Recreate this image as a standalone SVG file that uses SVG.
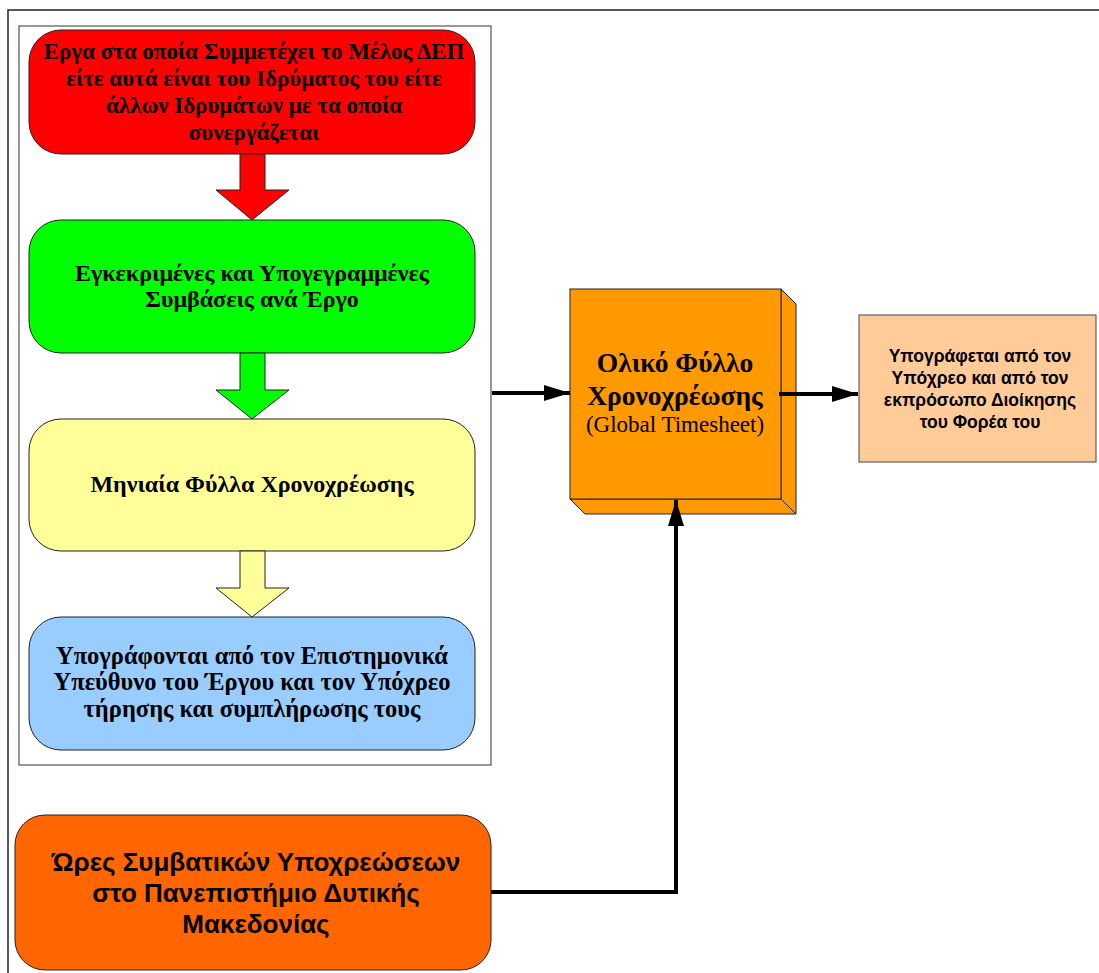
<svg xmlns="http://www.w3.org/2000/svg" width="1099" height="973" viewBox="0 0 1099 973">
<defs>
<style>
.frame{fill:none;stroke:#222;stroke-width:1.5}
.inner{fill:none;stroke:#333;stroke-width:1}
.box{stroke:#222;stroke-width:1}
.serif{font-family:"Liberation Serif","DejaVu Serif",serif;font-weight:bold;fill:#000;text-anchor:middle}
.sans{font-family:"Liberation Sans","Arial",sans-serif;font-weight:bold;fill:#000;text-anchor:middle}
.conn{fill:none;stroke:#000;stroke-width:4}
.blk{stroke:#222;stroke-width:1}
</style>
<marker id="ah" viewBox="0 0 26 16" refX="26" refY="8" markerWidth="26" markerHeight="16" markerUnits="userSpaceOnUse" orient="auto">
<path d="M0,0 L26,8 L0,16 Z" fill="#000"/>
</marker>
</defs>
<rect width="1099" height="973" fill="#fff"/>
<path class="frame" d="M1099,10 H8 V973"/>
<rect class="inner" x="19" y="26" width="472" height="739"/>

<g id="n-red">
<rect class="box" x="29" y="30" width="446" height="124" rx="32" fill="#FF0000"/>
<text class="serif" font-size="23" x="254" y="59">Εργα στα οποία Συμμετέχει το Μέλος ΔΕΠ</text>
<text class="serif" font-size="23" x="254" y="86">είτε αυτά είναι του Ιδρύματος του είτε</text>
<text class="serif" font-size="23" x="254" y="113">άλλων Ιδρυμάτων με τα οποία</text>
<text class="serif" font-size="23" x="254" y="140">συνεργάζεται</text>
</g>
<g id="a-red"><path class="blk" fill="#FF0000" d="M240,154 H265 V190 H289 L252,220 L216,190 H240 Z"/></g>

<g id="n-green">
<rect class="box" x="29" y="220" width="446" height="133" rx="32" fill="#00FF00"/>
<text class="serif" font-size="24" x="252" y="281">Εγκεκριμένες και Υπογεγραμμένες</text>
<text class="serif" font-size="24" x="252" y="307">Συμβάσεις ανά Έργο</text>
</g>
<g id="a-green"><path class="blk" fill="#00FF00" d="M240,353 H265 V390 H289 L252,419 L216,390 H240 Z"/></g>

<g id="n-yellow">
<rect class="box" x="29" y="419" width="446" height="132" rx="32" fill="#FFFF99"/>
<text class="serif" font-size="24" x="252" y="492">Μηνιαία Φύλλα Χρονοχρέωσης</text>
</g>
<g id="a-yellow"><path class="blk" fill="#FFFF99" d="M240,551 H265 V588 H289 L252,617 L216,588 H240 Z"/></g>

<g id="n-blue">
<rect class="box" x="29" y="617" width="446" height="133" rx="32" fill="#99CCFF"/>
<text class="serif" font-size="24.5" x="252" y="664">Υπογράφονται από τον Επιστημονικά</text>
<text class="serif" font-size="24.5" x="252" y="690">Υπεύθυνο του Έργου και τον Υπόχρεο</text>
<text class="serif" font-size="24.5" x="252" y="717">τήρησης και συμπλήρωσης τους</text>
</g>

<g id="n-hours">
<rect class="box" x="15" y="815" width="476" height="155" rx="30" fill="#FF6600"/>
<text class="sans" font-size="26" x="256" y="871">Ώρες Συμβατικών Υποχρεώσεων</text>
<text class="sans" font-size="26" x="256" y="902">στο Πανεπιστήμιο Δυτικής</text>
<text class="sans" font-size="26" x="256" y="933">Μακεδονίας</text>
</g>

<g id="n-global">
<path class="box" fill="#FF9900" d="M781,289 L796,304 V514 L781,499 Z"/>
<path class="box" fill="#FF9900" d="M570,499 H781 L796,514 H585 Z"/>
<rect class="box" x="570" y="289" width="211" height="210" fill="#FF9900"/>
<text class="serif" font-size="27.5" x="675" y="372">Ολικό Φύλλο</text>
<text class="serif" font-size="27.5" x="675" y="405">Χρονοχρέωσης</text>
<text font-family="Liberation Serif,DejaVu Serif,serif" font-size="23" text-anchor="middle" x="675" y="432">(Global Timesheet)</text>
</g>

<g id="n-sign">
<rect x="859" y="315" width="237" height="147" fill="#FFCC99" stroke="#444" stroke-width="1"/>
<text class="sans" font-size="17.5" x="980" y="362">Υπογράφεται από τον</text>
<text class="sans" font-size="17.5" x="980" y="384">Υπόχρεο και από τον</text>
<text class="sans" font-size="17.5" x="980" y="406">εκπρόσωπο Διοίκησης</text>
<text class="sans" font-size="17.5" x="980" y="428">του Φορέα του</text>
</g>

<g id="connectors">
<path class="conn" d="M492,393 H570" marker-end="url(#ah)"/>
<path class="conn" d="M779,394 H858" marker-end="url(#ah)"/>
<path class="conn" d="M491,892 H676 V500" marker-end="url(#ah)"/>
</g>
</svg>
